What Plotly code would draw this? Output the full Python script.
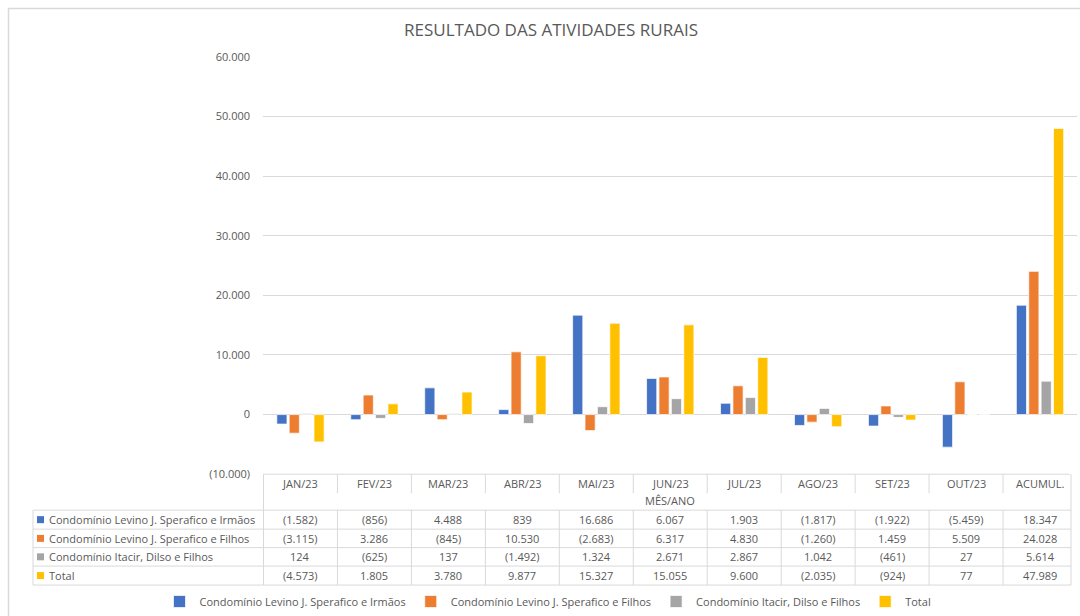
import plotly.graph_objects as go

# ---------------- data ----------------
categories = ["JAN/23", "FEV/23", "MAR/23", "ABR/23", "MAI/23", "JUN/23",
              "JUL/23", "AGO/23", "SET/23", "OUT/23", "ACUMUL."]
irmaos = [-1582, -856, 4488, 839, 16686, 6067, 1903, -1817, -1922, -5459, 18347]
filhos = [-3115, 3286, -845, 10530, -2683, 6317, 4830, -1260, 1459, 5509, 24028]
itacir = [124, -625, 137, -1492, 1324, 2671, 2867, 1042, -461, 27, 5614]
total = [-4573, 1805, 3780, 9877, 15327, 15055, 9600, -2035, -924, 77, 47989]
series_names = ["Condomínio Levino J. Sperafico e Irmãos",
                "Condomínio Levino J. Sperafico e Filhos",
                "Condomínio Itacir, Dilso e Filhos",
                "Total"]
ytick_vals = [-10000, 0, 10000, 20000, 30000, 40000, 50000, 60000]
title_text = "RESULTADO DAS ATIVIDADES RURAIS"
xaxis_title = "MÊS/ANO"

# ---------------- style ----------------
colors = ["#4472C4", "#ED7D31", "#A5A5A5", "#FFC000"]
W, H = 1080, 616
FONT = "Open Sans"
TXT = "#595959"
GRID = "#D9D9D9"


def fmt(v):
    s = f"{abs(v):,}".replace(",", ".")
    return f"({s})" if v < 0 else s


def X(px):
    return px / W


def Y(py):
    return 1 - py / H


series = [irmaos, filhos, itacir, total]

fig = go.Figure()
for name, vals, col in zip(series_names, series, colors):
    fig.add_trace(go.Bar(
        x=categories, y=vals, name=name,
        marker=dict(color=col, line=dict(color="rgba(255,255,255,0.7)", width=1)),
        hoverinfo="x+y+name",
    ))

shapes = []
annotations = []

# chart frame
shapes.append(dict(type="rect", xref="paper", yref="paper",
                   x0=X(8.5), x1=X(1100), y0=Y(640), y1=Y(8.5),
                   line=dict(color=GRID, width=1.5), layer="below"))

# data table geometry
row_edges = [511, 530, 548.5, 567, 586]
n = len(categories)
shapes.append(dict(type="line", xref="x", yref="paper", x0=-0.5, x1=n - 0.6,
                   y0=Y(475), y1=Y(475), line=dict(color=GRID, width=1)))
for ry in row_edges:
    shapes.append(dict(type="line", xref="paper", yref="paper", x0=X(33), x1=X(1071),
                       y0=Y(ry), y1=Y(ry), line=dict(color=GRID, width=1)))
for k in range(n + 1):
    xk = k - 0.5
    if k == 0:
        shapes.append(dict(type="line", xref="x", yref="paper", x0=xk, x1=xk,
                           y0=Y(475), y1=Y(586), line=dict(color=GRID, width=1)))
    elif k == n:
        shapes.append(dict(type="line", xref="paper", yref="paper", x0=X(1071), x1=X(1071),
                           y0=Y(475), y1=Y(586), line=dict(color=GRID, width=1)))
    else:
        shapes.append(dict(type="line", xref="x", yref="paper", x0=xk, x1=xk,
                           y0=Y(475), y1=Y(494), line=dict(color=GRID, width=1)))
        shapes.append(dict(type="line", xref="x", yref="paper", x0=xk, x1=xk,
                           y0=Y(511), y1=Y(586), line=dict(color=GRID, width=1)))
shapes.append(dict(type="line", xref="paper", yref="paper", x0=X(33), x1=X(33),
                   y0=Y(511), y1=Y(586), line=dict(color=GRID, width=1)))

for c in categories:
    annotations.append(dict(x=c, xref="x", y=Y(484), yref="paper", text=c,
                            showarrow=False, xanchor="center", yanchor="middle",
                            font=dict(family=FONT, size=11, color=TXT)))
annotations.append(dict(x=(n - 1) / 2, xref="x", y=Y(501.5), yref="paper", text=xaxis_title,
                        showarrow=False, xanchor="center", yanchor="middle",
                        font=dict(family=FONT, size=11, color=TXT)))

for r, (name, vals, col) in enumerate(zip(series_names, series, colors)):
    yc = (row_edges[r] + row_edges[r + 1]) / 2
    shapes.append(dict(type="rect", xref="paper", yref="paper",
                       x0=X(37), x1=X(44), y0=Y(yc + 3.5), y1=Y(yc - 3.5),
                       fillcolor=col, line=dict(width=0)))
    annotations.append(dict(x=X(47), xref="paper", y=Y(yc), yref="paper", text=name,
                            showarrow=False, xanchor="left", yanchor="middle",
                            font=dict(family=FONT, size=11, color=TXT)))
    for c, v in zip(categories, vals):
        annotations.append(dict(x=c, xref="x", y=Y(yc), yref="paper", text=fmt(v),
                                showarrow=False, xanchor="center", yanchor="middle",
                                font=dict(family=FONT, size=11, color=TXT)))

annotations.append(dict(x=X(551), xref="paper", y=Y(30), yref="paper", text=title_text,
                        showarrow=False, xanchor="center", yanchor="middle",
                        font=dict(family=FONT, size=17, color=TXT)))

fig.update_layout(
    width=W, height=H,
    margin=dict(l=0, r=0, t=0, b=0),
    paper_bgcolor="white", plot_bgcolor="white",
    barmode="group", bargap=0.33, bargroupgap=0.18,
    font=dict(family=FONT, size=11, color=TXT),
    xaxis=dict(domain=[X(263), X(1077)], showticklabels=False, showgrid=False,
               zeroline=False, showline=False, type="category", fixedrange=True),
    yaxis=dict(domain=[Y(475), Y(57)], range=[-10000, 60000],
               tickvals=ytick_vals, ticktext=[fmt(v) for v in ytick_vals],
               showgrid=True, gridcolor=GRID, gridwidth=1, zeroline=False,
               showline=False, ticks="", ticklabelstandoff=12, automargin=False,
               tickfont=dict(family=FONT, size=11, color=TXT)),
    legend=dict(orientation="h", x=X(548), xanchor="center", y=Y(602), yanchor="middle",
                font=dict(family=FONT, size=11, color=TXT), itemwidth=30,
                traceorder="normal", bgcolor="rgba(0,0,0,0)"),
    shapes=shapes, annotations=annotations,
    showlegend=True,
)

fig.write_html(
    "out.html",
    config={"responsive": False, "displayModeBar": False},
    post_script="document.body.style.margin='0';document.body.style.overflow='hidden';",
)
